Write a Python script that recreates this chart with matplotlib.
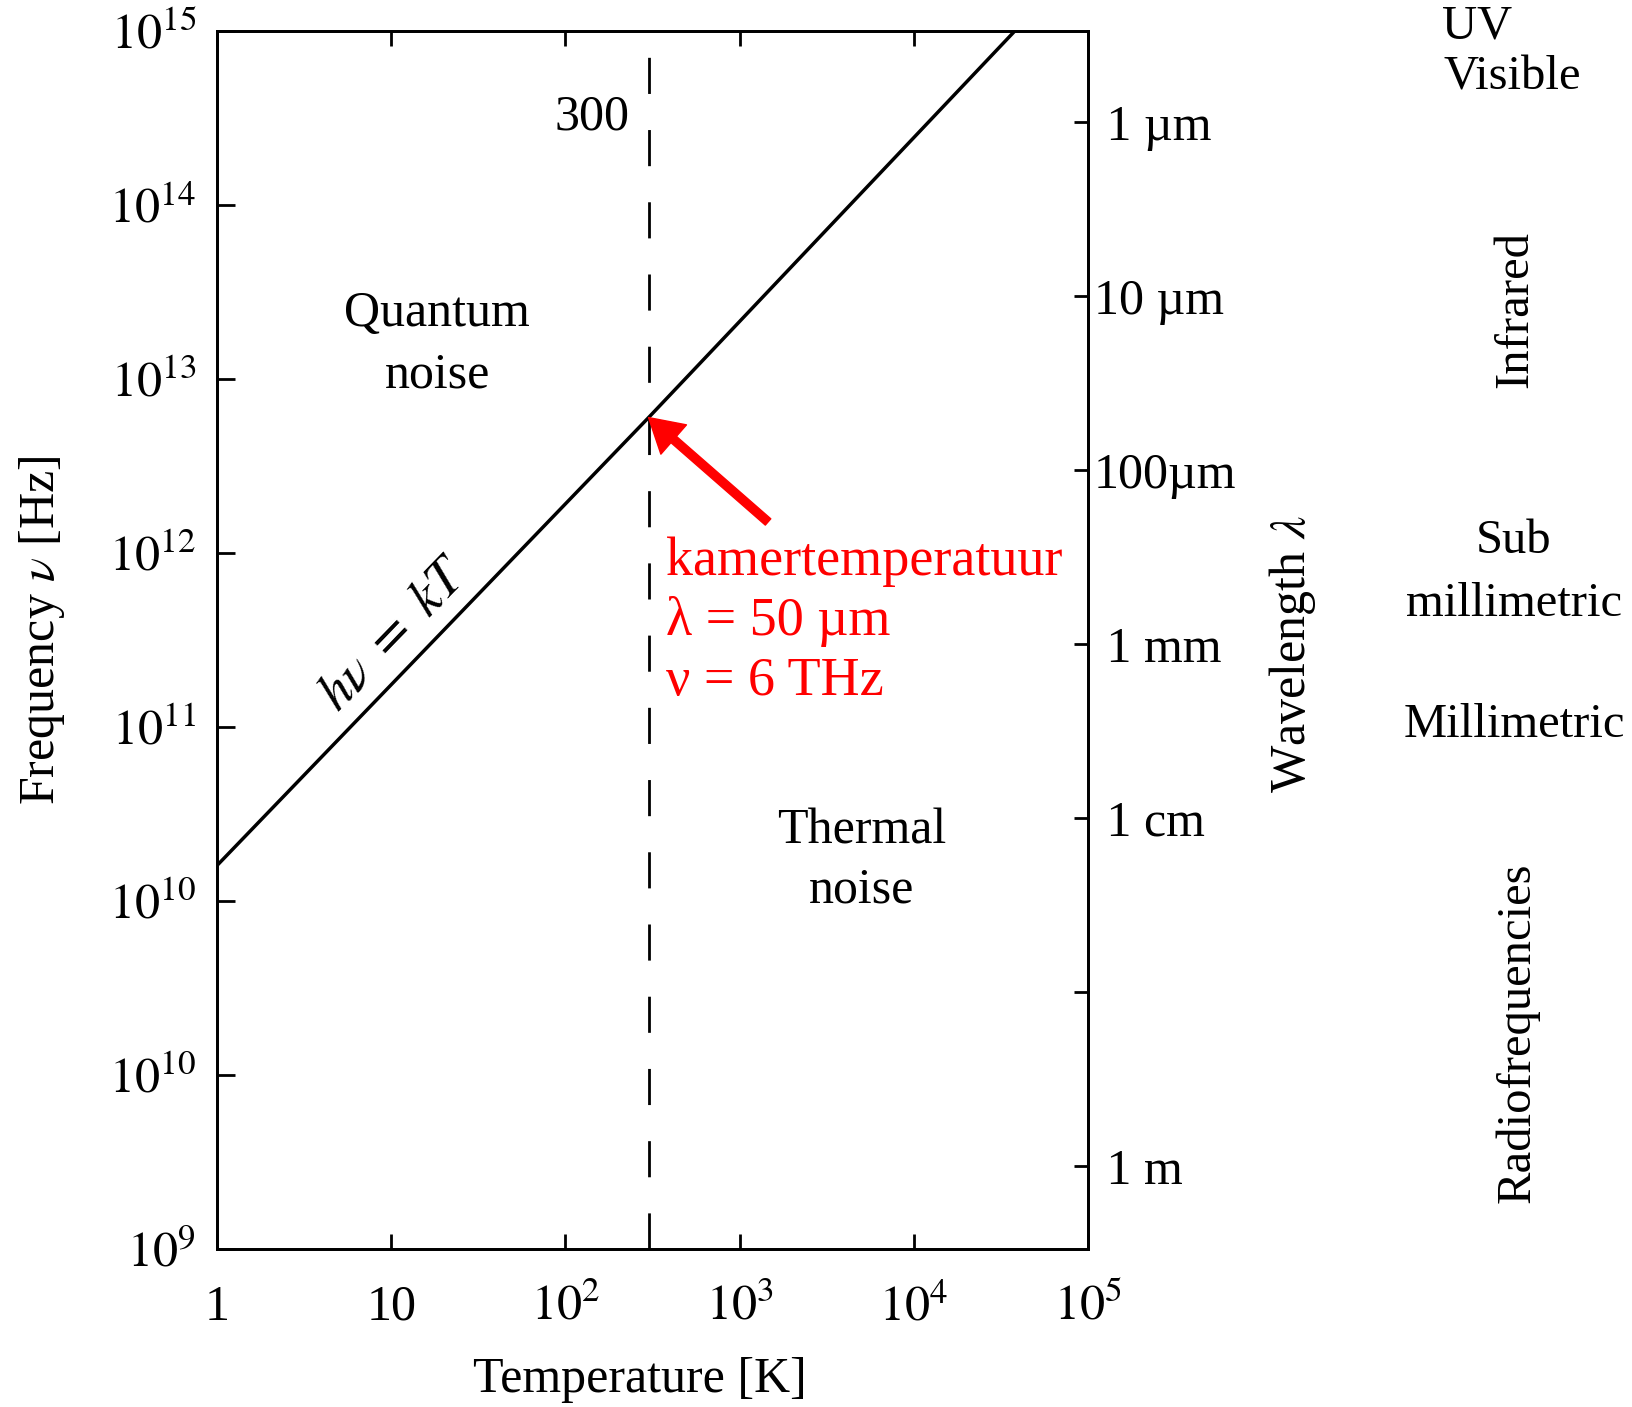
import matplotlib
matplotlib.use("Agg")
import matplotlib.pyplot as plt

plt.rcParams['font.family'] = 'serif'
plt.rcParams['font.serif'] = ['Liberation Serif', 'DejaVu Serif']
plt.rcParams['mathtext.fontset'] = 'stix'

# h*nu = k*T line (T in K, nu in Hz)
T_line = [1, 300, 3.8e4]
nu_line = [1.6e10, 6e12, 1e15]

# room temperature point
T_room = 300
nu_room = 6e12

# axis ticks
T_ticks = [1, 10, 1e2, 1e3, 1e4, 1e5]
T_labels = ['1', '10', '$10^2$', '$10^3$', '$10^4$', '$10^5$']
nu_ticks = [1e8, 1e9, 1e10, 1e11, 1e12, 1e13, 1e14, 1e15]
# labels as printed in the original figure
nu_labels = ['$10^9$', '$10^{10}$', '$10^{10}$', '$10^{11}$', '$10^{12}$',
             '$10^{13}$', '$10^{14}$', '$10^{15}$']
wl_ticks = [1e-6, 1e-5, 1e-4, 1e-3, 1e-2, 1e-1, 1.0]   # metres
wl_labels = [' 1 µm', '10 µm', '100µm', ' 1 mm', ' 1 cm', '', ' 1 m']
c = 3e8

fig = plt.figure(figsize=(16.32, 14.07), dpi=100)
ax = fig.add_axes([0.133, 0.1123, 0.5337, 0.8657])
ax.set_xscale('log')
ax.set_yscale('log')
ax.set_xlim(1, 1e5)
ax.set_ylim(1e8, 1e15)

ax.plot(T_line, nu_line, color='black', lw=2.5)
ax.axvline(T_room, color='black', lw=2, dashes=(13, 13))

ax.set_xticks(T_ticks)
ax.set_xticklabels(T_labels, va='baseline')
ax.set_yticks(nu_ticks)
ax.set_yticklabels(nu_labels)
ax.minorticks_off()
ax.tick_params(axis='x', direction='in', top=True, length=11, width=2, pad=51, labelsize=36)
ax.tick_params(axis='y', direction='in', length=13, width=2, pad=15, labelsize=36)
for sp in ax.spines.values():
    sp.set_linewidth(2)

# wavelength axis on the right
ax2 = ax.twinx()
ax2.set_yscale('log')
ax2.set_ylim(1e8, 1e15)
ax2.set_yticks([c / w for w in wl_ticks])
ax2.set_yticklabels(wl_labels)
ax2.minorticks_off()
ax2.tick_params(axis='y', direction='in', length=10, width=2, pad=4, labelsize=36)
for sp in ax2.spines.values():
    sp.set_linewidth(2)

ax.set_xlabel('Temperature [K]', fontsize=36, va='center')
ax.xaxis.set_label_coords(0.486, -0.1076)
ax.set_ylabel('Frequency $\\nu$ [Hz]', fontsize=36, va='center')
ax.yaxis.set_label_coords(-0.201, 0.508)
ax2.set_ylabel('Wavelength $\\lambda$', fontsize=36, va='center', rotation=90)
ax2.yaxis.set_label_coords(1.235, 0.488)

# annotations inside the plot
ax.text(0.474, 0.929, '300', transform=ax.transAxes, ha='right', va='center', fontsize=36)
ax.text(0.2526, 0.7425, 'Quantum\nnoise', transform=ax.transAxes, ha='center', va='center',
        fontsize=36, linespacing=1.42)
ax.text(0.7405, 0.3189, 'Thermal\nnoise', transform=ax.transAxes, ha='center', va='center',
        fontsize=36, linespacing=1.36)
ax.text(0.2044, 0.5041, r'$h\nu\ =\ kT$', transform=ax.transAxes, ha='center', va='center',
        fontsize=39, rotation=46)

ax.text(0.5155, 0.5150, 'kamertemperatuur\nλ = 50 µm\nν = 6 THz', transform=ax.transAxes,
        color='red', fontsize=39, ha='left', va='center', linespacing=1.24)
ax.annotate('', xy=(T_room, nu_room), xytext=(0.6326, 0.5969), textcoords='axes fraction',
            arrowprops=dict(color='red', width=6, headwidth=28, headlength=24, shrink=0))

# spectral bands on the far right
fig.text(0.8836, 0.9815, 'UV', ha='left', va='center', fontsize=35)
fig.text(0.8848, 0.9446, 'Visible', ha='left', va='center', fontsize=35)
fig.text(0.9283, 0.7797, 'Infrared', ha='center', va='center', fontsize=35, rotation=90)
fig.text(0.9277, 0.6155, 'Sub', ha='center', va='center', fontsize=35)
fig.text(0.9277, 0.5707, 'millimetric', ha='center', va='center', fontsize=35)
fig.text(0.9277, 0.4847, 'Millimetric', ha='center', va='center', fontsize=35)
fig.text(0.9295, 0.2658, 'Radiofrequencies', ha='center', va='center', fontsize=35, rotation=90)

fig.savefig('out.png', dpi=100)
